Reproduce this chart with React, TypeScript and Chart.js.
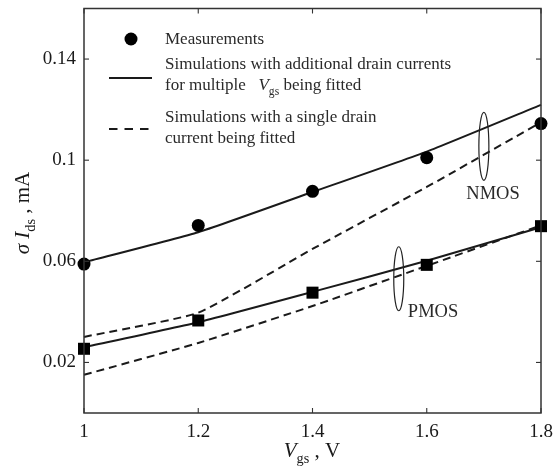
import React, { useEffect, useRef } from "react";
import { Chart, registerables } from "chart.js";

Chart.register(...registerables);

// ---- data ----
const vgs = [1.0, 1.2, 1.4, 1.6, 1.8];
const nmosMeasured = [0.0589, 0.0742, 0.0877, 0.101, 0.1145];
const nmosSimMulti = [0.0596, 0.0715, 0.0874, 0.1034, 0.1219];
const nmosSimSingle = [0.0301, 0.0397, 0.0649, 0.0894, 0.115];
const pmosMeasured = [0.0254, 0.0366, 0.0476, 0.0586, 0.0739];
const pmosSimMulti = [0.026, 0.0359, 0.0479, 0.0602, 0.0735];
const pmosSimSingle = [0.0151, 0.0277, 0.0423, 0.0582, 0.0742];
const xTicks = [1, 1.2, 1.4, 1.6, 1.8];
const yTicks = [0.02, 0.06, 0.1, 0.14];

const SERIF = "'Liberation Serif', 'DejaVu Serif', serif";
const INK = "#1a1a1a";

type Part = { t: string; italic?: boolean; sub?: boolean };

function richWidth(ctx: CanvasRenderingContext2D, parts: Part[], size: number) {
  let w = 0;
  for (const p of parts) {
    const s = p.sub ? size * 0.68 : size;
    ctx.font = `${p.italic ? "italic " : ""}${s}px ${SERIF}`;
    w += ctx.measureText(p.t).width;
  }
  return w;
}

function drawRich(
  ctx: CanvasRenderingContext2D,
  parts: Part[],
  x: number,
  y: number,
  size: number,
  align: "left" | "center" = "left"
) {
  let cx = x;
  if (align === "center") cx = x - richWidth(ctx, parts, size) / 2;
  ctx.textAlign = "left";
  ctx.textBaseline = "alphabetic";
  for (const p of parts) {
    const s = p.sub ? size * 0.68 : size;
    ctx.font = `${p.italic ? "italic " : ""}${s}px ${SERIF}`;
    ctx.fillText(p.t, cx, p.sub ? y + size * 0.28 : y);
    cx += ctx.measureText(p.t).width;
  }
}

const overlay = {
  id: "overlay",
  afterDraw(chart: any) {
    const { ctx, chartArea: a, scales } = chart;
    const x = scales.x;
    const y = scales.y;
    ctx.save();
    // frame
    ctx.strokeStyle = "#333";
    ctx.lineWidth = 1.5;
    ctx.strokeRect(a.left, a.top, a.right - a.left, a.bottom - a.top);
    // inward ticks
    ctx.lineWidth = 1.1;
    const tl = 5;
    const seg = (x1: number, y1: number, x2: number, y2: number) => {
      ctx.beginPath();
      ctx.moveTo(x1, y1);
      ctx.lineTo(x2, y2);
      ctx.stroke();
    };
    for (const v of xTicks) {
      const px = x.getPixelForValue(v);
      seg(px, a.bottom, px, a.bottom - tl);
      seg(px, a.top, px, a.top + tl);
    }
    for (const v of yTicks) {
      const py = y.getPixelForValue(v);
      seg(a.left, py, a.left + tl, py);
      seg(a.right, py, a.right - tl, py);
    }

    // ellipses grouping series
    ctx.strokeStyle = "#222";
    ctx.lineWidth = 1.2;
    const ell = (vx: number, vy: number, rx: number, ry: number) => {
      ctx.beginPath();
      ctx.ellipse(x.getPixelForValue(vx), y.getPixelForValue(vy), rx, ry, 0, 0, Math.PI * 2);
      ctx.stroke();
    };
    ell(1.7, 0.1055, 5, 34);
    ell(1.551, 0.0531, 5, 32);

    ctx.fillStyle = "#2a2a2a";
    ctx.font = `18.5px ${SERIF}`;
    ctx.textAlign = "center";
    ctx.textBaseline = "middle";
    ctx.fillText("NMOS", x.getPixelForValue(1.716), y.getPixelForValue(0.0864));
    ctx.fillText("PMOS", x.getPixelForValue(1.611), y.getPixelForValue(0.04));

    // legend
    const lx0 = 109;
    const lx1 = 152;
    ctx.fillStyle = "#000";
    ctx.beginPath();
    ctx.arc(131, 39, 6.5, 0, Math.PI * 2);
    ctx.fill();
    ctx.strokeStyle = INK;
    ctx.lineWidth = 2;
    seg(lx0, 78, lx1, 78);
    ctx.setLineDash([8.5, 7]);
    seg(lx0, 129, 149, 129);
    ctx.setLineDash([]);

    ctx.fillStyle = "#2a2a2a";
    const ls = 17;
    drawRich(ctx, [{ t: "Measurements" }], 165, 44, ls);
    drawRich(ctx, [{ t: "Simulations with additional drain currents" }], 165, 69, ls);
    drawRich(
      ctx,
      [{ t: "for multiple   " }, { t: "V", italic: true }, { t: "gs", sub: true }, { t: " being fitted" }],
      165,
      90,
      ls
    );
    drawRich(ctx, [{ t: "Simulations with a single drain" }], 165, 122, ls);
    drawRich(ctx, [{ t: "current being fitted" }], 165, 143, ls);

    // x title
    ctx.fillStyle = INK;
    drawRich(
      ctx,
      [{ t: "V", italic: true }, { t: "gs", sub: true }, { t: " , V" }],
      312,
      457,
      21,
      "center"
    );

    // y title (rotated)
    ctx.save();
    ctx.translate(29, 213);
    ctx.rotate(-Math.PI / 2);
    drawRich(
      ctx,
      [{ t: "σ", italic: true }, { t: " " }, { t: "I", italic: true }, { t: "ds", sub: true }, { t: " , mA" }],
      0,
      0,
      21,
      "center"
    );
    ctx.restore();

    ctx.restore();
  },
};

export default function App() {
  const ref = useRef<HTMLCanvasElement | null>(null);

  useEffect(() => {
    if (!ref.current) return;
    const pts = (ys: number[]) => vgs.map((v, i) => ({ x: v, y: ys[i] }));
    const lineDs = (label: string, ys: number[], dashed: boolean) => ({
      label,
      data: pts(ys),
      borderColor: INK,
      borderWidth: 2,
      borderDash: dashed ? [8, 5] : [],
      pointRadius: 0,
      showLine: true,
      fill: false,
      tension: 0.15,
      clip: false,
    });
    const chart = new Chart(ref.current, {
      type: "scatter",
      data: {
        datasets: [
          {
            label: "NMOS measurements",
            data: pts(nmosMeasured),
            pointStyle: "circle",
            pointRadius: 6.5,
            backgroundColor: "#000",
            borderColor: "#000",
            borderWidth: 0,
            showLine: false,
            clip: false,
          } as any,
          {
            label: "PMOS measurements",
            data: pts(pmosMeasured),
            pointStyle: "rect",
            pointRadius: 8.5,
            backgroundColor: "#000",
            borderColor: "#000",
            borderWidth: 0,
            showLine: false,
            clip: false,
          },
          lineDs("NMOS multi-Vgs fit", nmosSimMulti, false),
          lineDs("NMOS single fit", nmosSimSingle, true),
          lineDs("PMOS multi-Vgs fit", pmosSimMulti, false),
          lineDs("PMOS single fit", pmosSimSingle, true),
        ],
      },
      options: {
        responsive: false,
        animation: false,
        layout: { padding: { left: 0, right: 13, top: 8, bottom: 0 } },
        plugins: { legend: { display: false }, tooltip: { enabled: false } },
        scales: {
          x: {
            type: "linear",
            min: 1,
            max: 1.8,
            grid: { display: false, drawTicks: false },
            border: { display: false },
            afterBuildTicks: (s: any) => {
              s.ticks = xTicks.map((v) => ({ value: v }));
            },
            afterFit: (s: any) => {
              s.height = 53;
              s.paddingLeft = 0;
              s.paddingRight = 0;
            },
            ticks: {
              padding: 8,
              color: INK,
              font: { family: SERIF, size: 19 },
              maxRotation: 0,
              callback: (v: any) => String(Number(Number(v).toFixed(2))),
            },
          },
          y: {
            type: "linear",
            min: 0,
            max: 0.16,
            grid: { display: false, drawTicks: false },
            border: { display: false },
            afterBuildTicks: (s: any) => {
              s.ticks = yTicks.map((v) => ({ value: v }));
            },
            afterFit: (s: any) => {
              s.width = 84;
              s.paddingTop = 0;
              s.paddingBottom = 0;
            },
            ticks: {
              padding: 8,
              color: INK,
              font: { family: SERIF, size: 19 },
              callback: (v: any) => String(Number(Number(v).toFixed(2))),
            },
          },
        },
      },
      plugins: [overlay],
    });
    return () => chart.destroy();
  }, []);

  return (
    <div style={{ position: "absolute", left: 0, top: 0, width: 554, height: 466, background: "#fff" }}>
      <canvas ref={ref} width={554} height={466} style={{ display: "block" }} />
    </div>
  );
}
